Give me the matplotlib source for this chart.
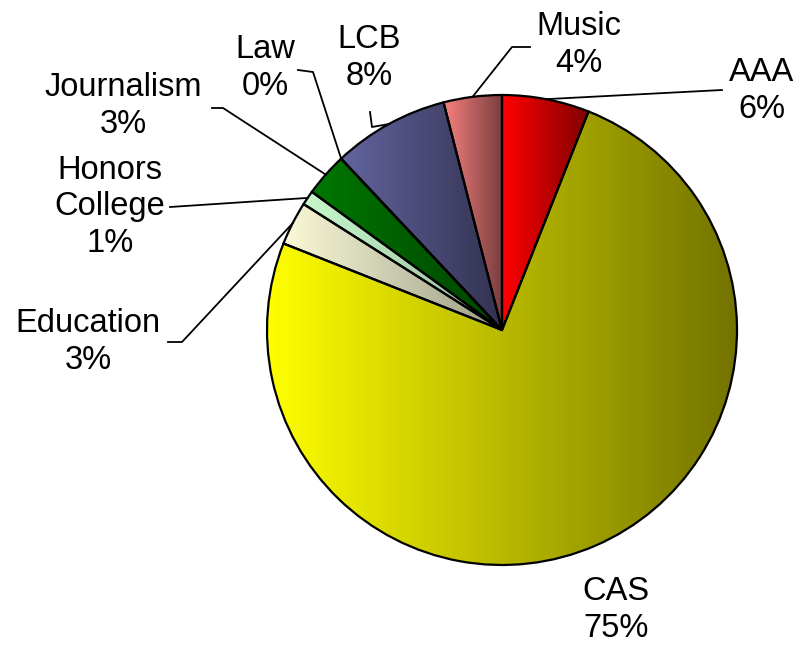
import numpy as np
import matplotlib
matplotlib.use("Agg")
import matplotlib.pyplot as plt
from matplotlib.colors import to_rgb

# data (clockwise from 12 o'clock)
schools = ["AAA", "CAS", "Education", "Honors\nCollege", "Journalism", "Law", "LCB", "Music"]
shares = [6, 75, 3, 1, 3, 0, 8, 4]
pct_labels = ["6%", "75%", "3%", "1%", "3%", "0%", "8%", "4%"]
light_colors = ["#FF0000", "#FFFF00", "#FAFAD8", "#C8F8CC", "#007800", "#FFFFFF", "#6464A0", "#F88080"]
dark_factor = [0.5, 0.45, 0.62, 0.75, 0.55, 1.0, 0.5, 0.48]

# label layout in pixel space (x, y from top), and leader-line elbow points
label_pos = {
    "AAA": (762, 91), "CAS": (616, 610), "Education": (88, 342),
    "Honors\nCollege": (110, 207), "Journalism": (123, 106), "Law": (265, 68),
    "LCB": (369, 58), "Music": (579, 45),
}
elbows = {
    "AAA": [(722, 90)],
    "Education": [(168, 342), (182, 342)],
    "Honors\nCollege": [(170, 207)],
    "Journalism": [(212, 108), (223, 108)],
    "Law": [(298, 70), (313, 72)],
    "LCB": [(370, 112), (372, 127)],
    "Music": [(530, 47), (512, 47)],
}

W, H = 801, 655
fig = plt.figure(figsize=(W / 100, H / 100), dpi=100)
ax = fig.add_axes([0, 0, 1, 1])

cx, cy, R = 502, H - 330, 235
wedges, _ = ax.pie(shares, startangle=90, counterclock=False, center=(cx, cy), radius=R,
                   colors=["none"] * len(shares),
                   wedgeprops=dict(edgecolor="black", linewidth=1.6))

for w, c, f in zip(wedges, light_colors, dark_factor):
    w.set_zorder(3)
    t = np.radians(np.linspace(w.theta1, w.theta2, 200))
    xs = np.concatenate([[cx], cx + R * np.cos(t)])
    ys = np.concatenate([[cy], cy + R * np.sin(t)])
    x0, x1 = xs.min(), xs.max()
    if x1 - x0 < 1:
        continue
    base = np.array(to_rgb(c))
    g = np.linspace(1, f, 256)[None, :, None] * base[None, None, :]
    im = ax.imshow(g, extent=[x0, x1, ys.min(), ys.max()], aspect="auto",
                   interpolation="bilinear", zorder=2)
    im.set_clip_path(w)

for w, name, pct in zip(wedges, schools, pct_labels):
    lx, ly = label_pos[name]
    ax.text(lx, H - ly, name + "\n" + pct, ha="center", va="center", fontsize=23.5,
            family="Liberation Sans", linespacing=1.22, zorder=5)
    if name in elbows:
        mid = np.radians((w.theta1 + w.theta2) / 2)
        ex, ey = cx + R * np.cos(mid), cy + R * np.sin(mid)
        pts = [(x, H - y) for x, y in elbows[name]] + [(ex, ey)]
        ax.plot([p[0] for p in pts], [p[1] for p in pts], color="black", lw=1.3, zorder=4)

ax.set_xlim(0, W)
ax.set_ylim(0, H)
ax.set_aspect("auto")
ax.axis("off")
fig.savefig("out.png", dpi=100)
